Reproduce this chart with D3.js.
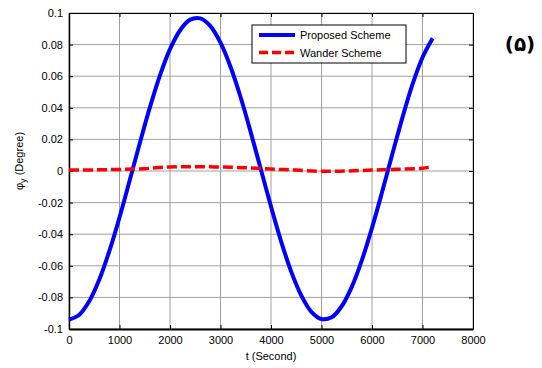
<!DOCTYPE html>
<html><head><meta charset="utf-8">
<script src="https://cdn.jsdelivr.net/npm/d3@7"></script>
<style>body{margin:0;background:#fff}svg{display:block}text{font-family:"Liberation Sans",Arial,sans-serif}</style>
</head><body><svg id="c" width="542" height="368"></svg>
<script>
const tProposed = [0,200,400,600,800,1000,1200,1400,1600,1800,2000,2200,2400,2600,2800,3000,3200,3400,3600,3800,4000,4200,4400,4600,4800,5000,5200,5400,5600,5800,6000,6200,6400,6600,6800,7000,7200];
const proposed = [-0.094,-0.0911,-0.0825,-0.0687,-0.0506,-0.0294,-0.0062,0.0174,0.0401,0.0604,0.0771,0.0891,0.0958,0.0966,0.0917,0.0812,0.0658,0.0465,0.0244,0.0009,-0.0225,-0.0445,-0.0637,-0.0788,-0.0891,-0.0937,-0.0926,-0.0856,-0.0733,-0.0564,-0.036,-0.0133,0.0104,0.0335,0.0546,0.0718,0.084];
const tWander = [0,500,1000,1500,2000,2500,3000,3500,4000,4500,5000,5500,6000,6500,7000,7200];
const wander = [0.0006,0.0007,0.001,0.0015,0.0026,0.0027,0.0025,0.0021,0.0012,0.0006,-0.0002,0,0.0006,0.0011,0.0018,0.0027];
const xTicks = [0,1000,2000,3000,4000,5000,6000,7000,8000];
const yTicks = [-0.1,-0.08,-0.06,-0.04,-0.02,0,0.02,0.04,0.06,0.08,0.1];
const yTickLabels = ["-0.1","-0.08","-0.06","-0.04","-0.02","0","0.02","0.04","0.06","0.08","0.1"];
const seriesNames = ["Proposed Scheme","Wander Scheme"];

const svg = d3.select("#c");
const L=69,R=473,T=13,B=329;
const x = d3.scaleLinear().domain([0,8000]).range([L,R]);
const y = d3.scaleLinear().domain([-0.1,0.1]).range([B,T]);

// grid
const g = svg.append("g");
g.selectAll(".gx").data(xTicks).enter().append("line")
 .attr("x1",d=>x(d)).attr("x2",d=>x(d)).attr("y1",T).attr("y2",B)
 .attr("stroke","#a0a0a0").attr("stroke-width",1);
g.selectAll(".gy").data(yTicks).enter().append("line")
 .attr("y1",d=>y(d)).attr("y2",d=>y(d)).attr("x1",L).attr("x2",R)
 .attr("stroke","#a0a0a0").attr("stroke-width",1);

// axes
const axB = d3.axisBottom(x).tickValues(xTicks).tickSizeInner(-4).tickSizeOuter(0).tickPadding(7).tickFormat(d3.format("d"));
const axL = d3.axisLeft(y).tickValues(yTicks).tickSizeInner(-4).tickSizeOuter(0).tickPadding(6).tickFormat((d,i)=>yTickLabels[i]);
const axT = d3.axisTop(x).tickValues(xTicks).tickSizeInner(-4).tickSizeOuter(0).tickFormat("");
const axR = d3.axisRight(y).tickValues(yTicks).tickSizeInner(-4).tickSizeOuter(0).tickFormat("");
function style(sel){sel.selectAll("path").attr("stroke","#000");sel.selectAll("line").attr("stroke","#000");sel.selectAll("text").attr("fill","#000").style("font-size","11px").style("font-family","Liberation Sans, Arial, sans-serif");}
svg.append("g").attr("transform",`translate(0,${B})`).call(axB).call(style).select("path").attr("stroke-width",2);
svg.append("g").attr("transform",`translate(${L},0)`).call(axL).call(style).select("path").attr("stroke-width",1.5);
svg.append("g").attr("transform",`translate(0,${T})`).call(axT).call(style);
svg.append("g").attr("transform",`translate(${R},0)`).call(axR).call(style);

// lines
const line = d3.line().x(d=>x(d[0])).y(d=>y(d[1])).curve(d3.curveCatmullRom);
svg.append("path").datum(tProposed.map((t,i)=>[t,proposed[i]]))
 .attr("d",line).attr("fill","none").attr("stroke","#0000ff").attr("stroke-width",4);
svg.append("path").datum(tWander.map((t,i)=>[t,wander[i]]))
 .attr("d",line).attr("fill","none").attr("stroke","#ff0000").attr("stroke-width",3.5).attr("stroke-dasharray","10,4");

// labels
svg.append("text").attr("x",271).attr("y",360).attr("text-anchor","middle").style("font-size","11px").text("t (Second)");
const yl = svg.append("text").attr("transform",`translate(23,161) rotate(-90)`).attr("text-anchor","middle").style("font-size","11px");
yl.append("tspan").text("\u03c6");
yl.append("tspan").attr("dy",3).style("font-size","9px").text("y");
yl.append("tspan").attr("dy",-3).text(" (Degree)");

// legend
const lg = svg.append("g");
lg.append("rect").attr("x",252).attr("y",25).attr("width",154).attr("height",38).attr("fill","#fff").attr("stroke","#000").attr("stroke-width",1);
const colors=["#0000ff","#ff0000"];
seriesNames.forEach((n,i)=>{
  const yy=35+i*17.5;
  lg.append("line").attr("x1",259).attr("x2",295).attr("y1",yy).attr("y2",yy).attr("stroke",colors[i]).attr("stroke-width",i?3.5:4).attr("stroke-dasharray",i?"9,4":null);
  lg.append("text").attr("x",300).attr("y",yy+4).style("font-size","11px").text(n);
});
svg.append("text").attr("x",520).attr("y",51).attr("text-anchor","middle").style("font-size","20px").style("font-weight","bold").style("font-family","DejaVu Sans, sans-serif").text("(\u06F5)");
</script></body></html>
